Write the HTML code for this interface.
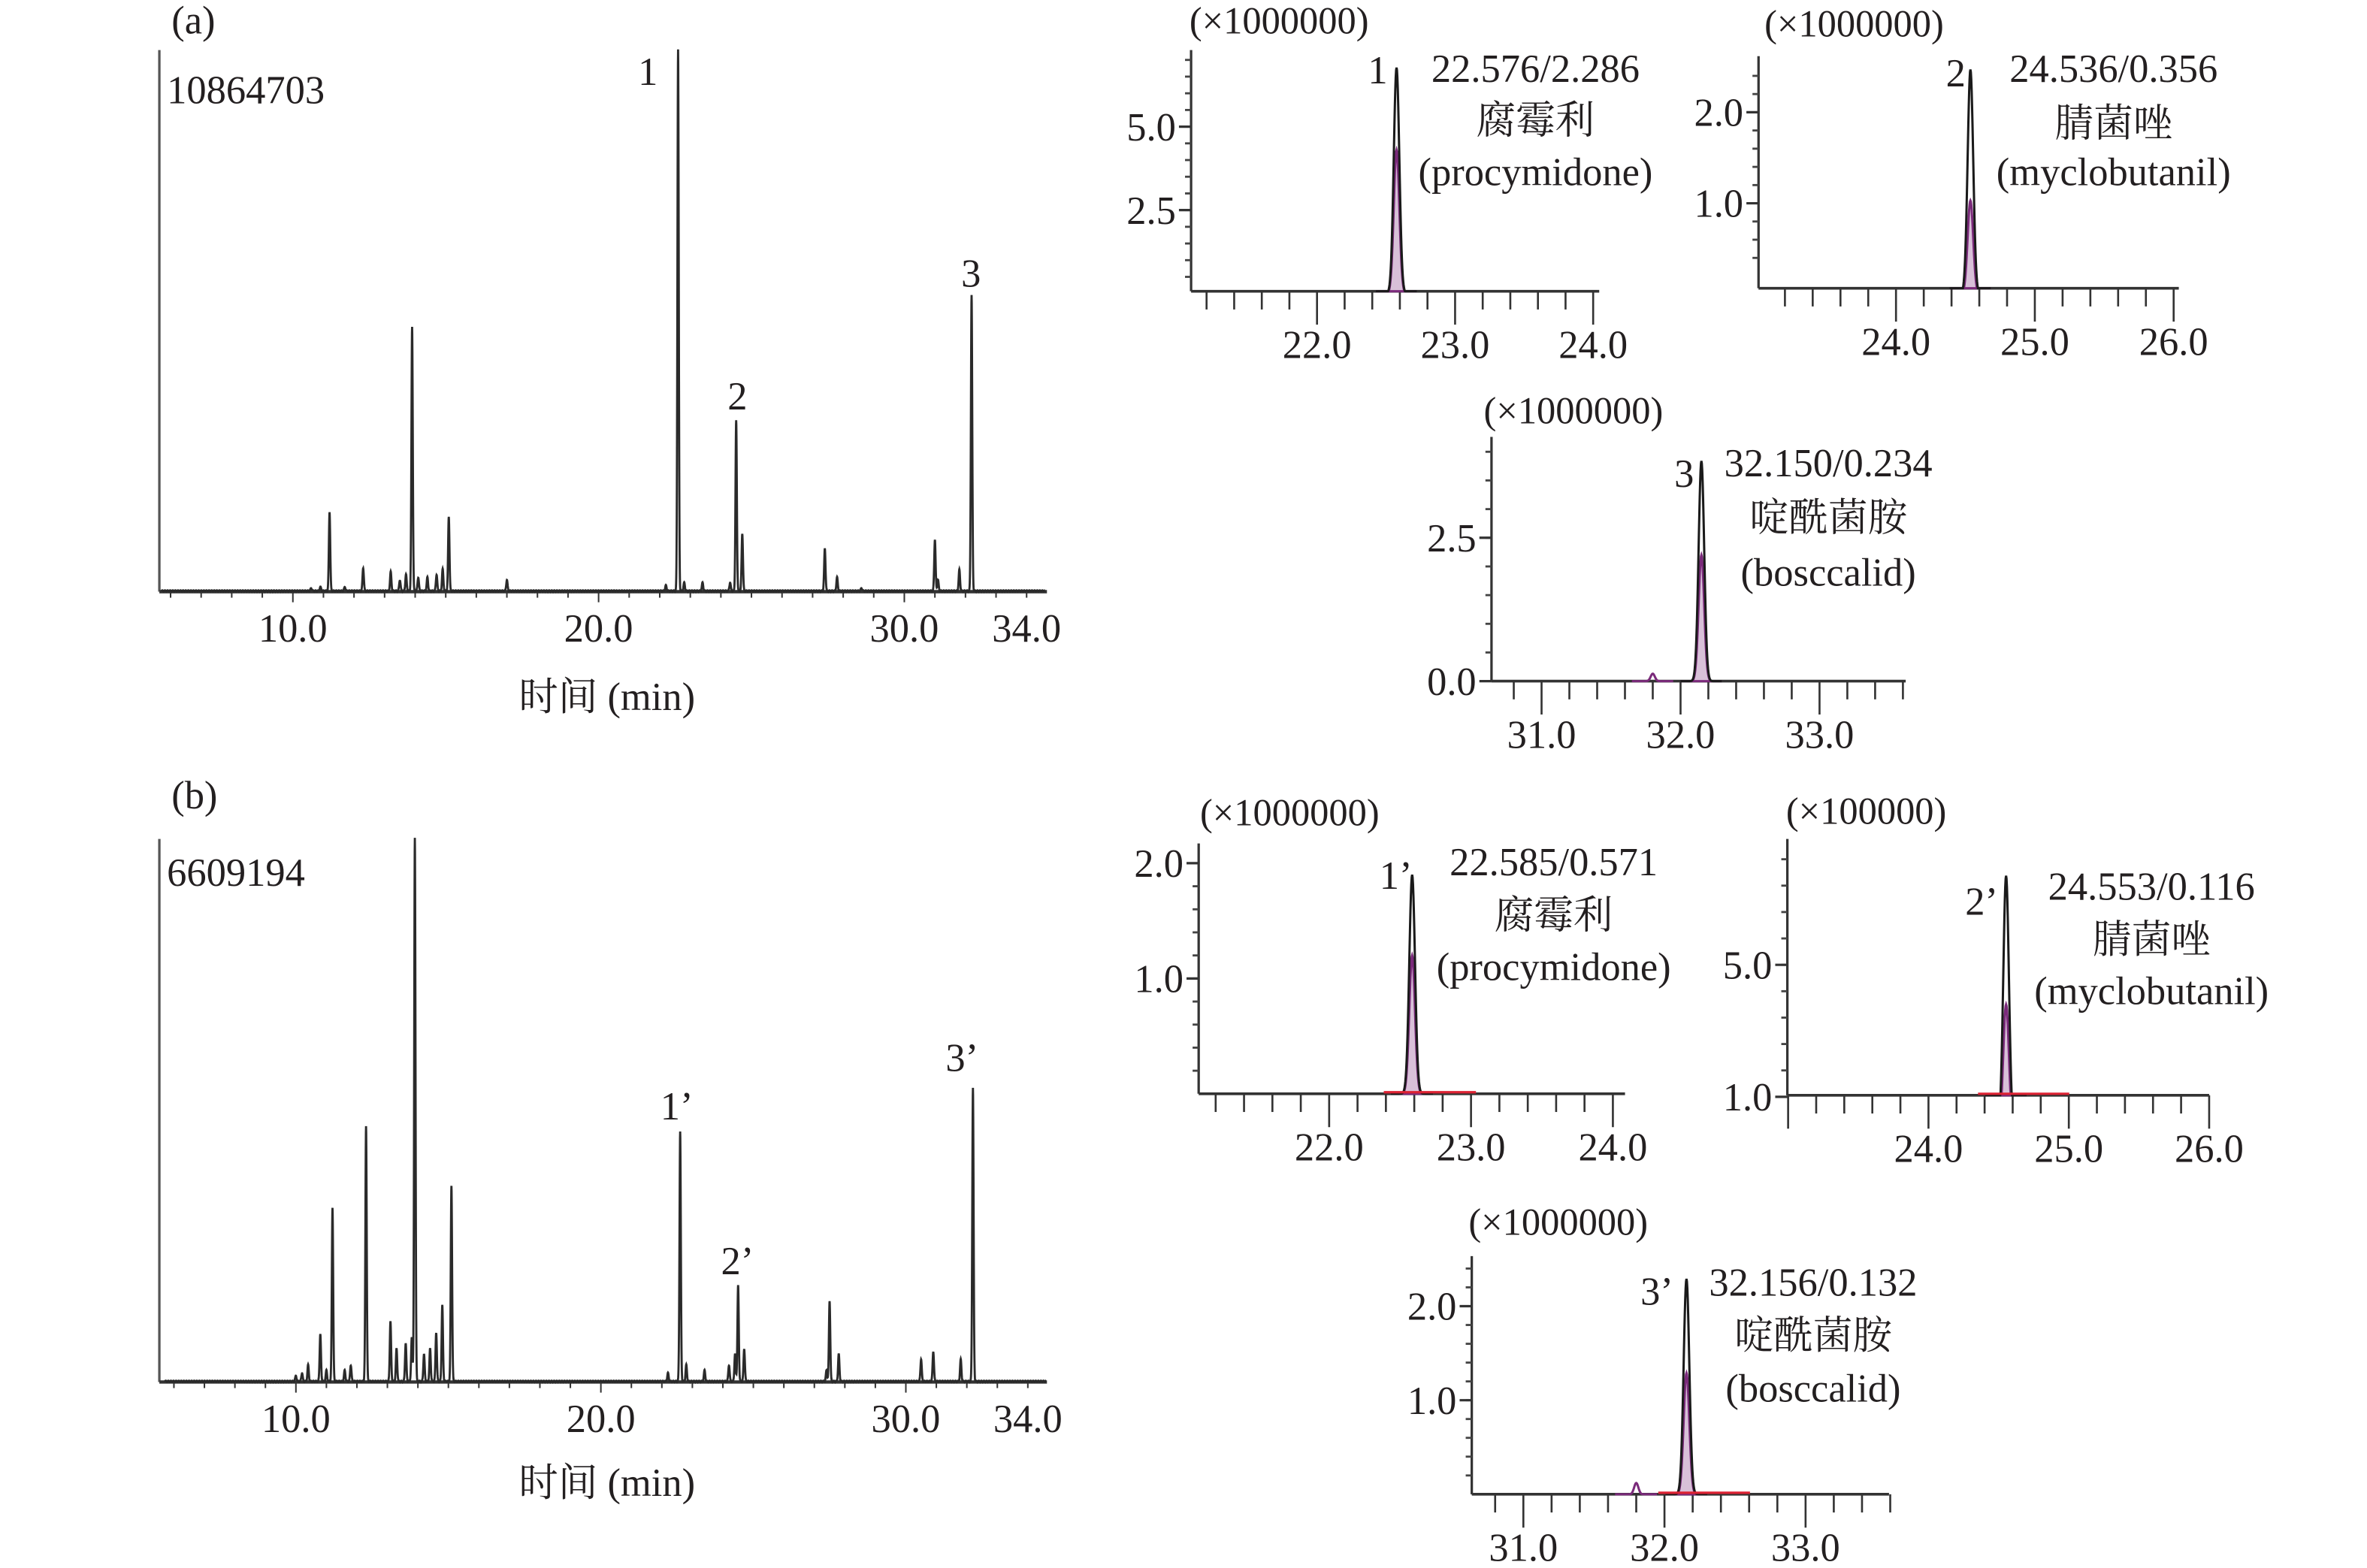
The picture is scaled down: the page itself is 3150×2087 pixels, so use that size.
<!DOCTYPE html>
<html><head><meta charset="utf-8">
<style>
html,body{margin:0;padding:0;background:#fff;}
svg{display:block;}
text{font-family:"Liberation Serif","Noto Serif CJK SC","Noto Sans CJK SC",serif;fill:#231f20;}
</style></head>
<body>
<svg id="fig" width="3150" height="2087" viewBox="0 0 1560 1033.6" xmlns="http://www.w3.org/2000/svg"></svg>
<script>
// ===== data: main chromatogram (a) =====
const aRt = [10.6,10.9,11.2,11.7,12.3,13.2,13.5,13.7,13.9,14.1,14.4,14.7,14.9,15.1,17.0,22.2,22.6,22.8,23.4,24.3,24.5,24.7,27.4,27.8,28.6,31.0,31.1,31.8,32.2];
const aH  = [0.5,0.7,14.6,0.7,4.2,3.5,2.0,3.0,48.7,2.5,2.5,3.0,4.0,13.7,2.0,1.0,100,1.5,1.5,1.5,31.4,10.6,7.8,2.5,0.5,9.5,2,3.9,54.6];
// ===== data: main chromatogram (b) =====
const bRt = [10.0,10.2,10.4,10.8,11.0,11.2,11.6,11.8,12.3,13.1,13.3,13.6,13.8,13.9,14.2,14.4,14.6,14.8,15.1,22.2,22.6,22.8,23.4,24.2,24.4,24.5,24.7,27.4,27.5,27.8,30.5,30.9,31.8,32.2];
const bH  = [1,1.5,3,8.7,2,32,2,3,47,11,6,7,8,100,5,6,9,14,36,1.5,46,3,2,3,5,17.6,6,2,14.8,5,4,5.5,4,54];
const mainTicks = [10.0,20.0,30.0,34.0];
// ===== data: extracted ion panels =====
const pRt     = [22.576,24.536,32.150,22.585,24.553,32.156];
const pTotal  = [6.77,2.47,3.84,1.90,7.70,2.29];
const pQual   = [4.30,1.03,2.20,1.20,3.80,1.29];
const pLabel  = ["1","2","3","1’","2’","3’"];
const pInfo   = ["22.576/2.286","24.536/0.356","32.150/0.234","22.585/0.571","24.553/0.116","32.156/0.132"];
const pCn     = ["腐霉利","腈菌唑","啶酰菌胺","腐霉利","腈菌唑","啶酰菌胺"];
const pEn     = ["(procymidone)","(myclobutanil)","(bosccalid)","(procymidone)","(myclobutanil)","(bosccalid)"];
const pMult   = ["(×1000000)","(×1000000)","(×1000000)","(×1000000)","(×100000)","(×1000000)"];
const pXTicks = [[22.0,23.0,24.0],[24.0,25.0,26.0],[31.0,32.0,33.0],[22.0,23.0,24.0],[24.0,25.0,26.0],[31.0,32.0,33.0]];
const pYTicks = [[2.5,5.0],[1.0,2.0],[0.0,2.5],[1.0,2.0],[1.0,5.0],[1.0,2.0]];
const pSmallRt = [null,null,31.8,null,null,31.8];
const pSmallH  = [0,0,0.13,0,0,0.12];

const NS="http://www.w3.org/2000/svg";
const svg=document.getElementById('fig');
function el(tag,attrs,parent){const e=document.createElementNS(NS,tag);for(const k in attrs)e.setAttribute(k,attrs[k]);(parent||svg).appendChild(e);return e;}
function txt(s,x,y,size,anchor,parent){const t=el('text',{x:x,y:y,'font-size':size,'text-anchor':anchor||'start'},parent);t.textContent=s;return t;}

function mainChrom(name,rts,hs,x0,xPerMin,base,full,top){
  const g=el('g',{});
  
  
  const X=t=>x0+(t-10)*xPerMin;
  const Y=v=>base-v/100*full;
  const ya=el('line',{x1:105,y1:top,x2:105,y2:base,stroke:'#555','stroke-width':1.6},g);
  
  
  const xa=el('line',{x1:105,y1:base,x2:690,y2:base,stroke:'#333','stroke-width':2.2},g);
  
  
  for(let t=6;t<=34;t++){const x=X(t);el('line',{x1:x,y1:base,x2:x,y2:base+(t%10===0?7:4),stroke:'#333','stroke-width':1},g);}
  mainTicks.forEach(t=>{const l=txt(t.toFixed(1),X(t),base+33,26,'middle',g);
    
    });
  let d='';
  for(let t=5.7;t<=34.6;t+=0.005){
    let v=0.25*Math.abs(Math.sin(t*37));
    for(let i=0;i<rts.length;i++){const s=0.022;v+=hs[i]*Math.exp(-((t-rts[i])**2)/(2*s*s));}
    v=Math.min(v,100.5);
    d+=(d?'L':'M')+X(t).toFixed(2)+' '+Y(v).toFixed(2);
  }
  const p=el('path',{d:d,fill:'none',stroke:'#2a2a2a','stroke-width':1.4},g);
  
  
  return {g,X,Y};
}
const A=mainChrom('chromatogram-a',aRt,aH,193,20.15,390,357,33);
const B=mainChrom('chromatogram-b',bRt,bH,195,20.1,911,358,553);
[['(a)',113,22],['(b)',113,533]].forEach(a=>{const t=txt(a[0],a[1],a[2],26);
  
  });
[['10864703',110,68],['6609194',110,584]].forEach(a=>{const t=txt(a[0],a[1],a[2],26);
  
  });
[['时间 (min)',400,468],['时间 (min)',400,986]].forEach(a=>{const t=txt(a[0],a[1],a[2],26,'middle');
  
  });
[['1',427,56],['2',486,270],['3',640,189]].forEach(a=>{const t=txt(a[0],a[1],a[2],26,'middle');
  
  });
[['1’',446,738],['2’',486,840],['3’',634,706]].forEach(a=>{const t=txt(a[0],a[1],a[2],26,'middle');
  
  });

const L=[
 {l:785,r:1054,b:192,top:33,xr:22,xp:868,ppm:91,y0:193.5,ppu:22,ys:0.5,ys0:0.5,mult:[843,22],lab:[908,55],info:[1012,54],cn:88,en:122},
 {l:1159,r:1436,b:190,top:37,xr:24,xp:1249.6,ppm:91.5,y0:194,ppu:60,ys:0.2,ys0:0.4,mult:[1222,24],lab:[1289,57],info:[1393,54],cn:90,en:122},
 {l:983,r:1256,b:449,top:288,xr:31,xp:1016,ppm:91.6,y0:449,ppu:37.8,ys:0.5,ys0:0.5,mult:[1037,279],lab:[1110,321],info:[1205,314],cn:350,en:386},
 {l:790,r:1071,b:721,top:556,xr:22,xp:876,ppm:93.5,y0:721,ppu:76,ys:0.2,ys0:0.2,mult:[850,544],lab:[920,586],info:[1024,577],cn:612,en:646},
 {l:1178,r:1456,b:722,top:553,xr:24,xp:1271,ppm:92.5,y0:744.75,ppu:21.75,ys:0.8,ys0:1.0,mult:[1230,543],lab:[1306,603],info:[1418,593],cn:628,en:662},
 {l:970,r:1245,b:985,top:828,xr:31,xp:1004,ppm:93,y0:985,ppu:62,ys:0.2,ys0:0.2,mult:[1027,814],lab:[1092,860],info:[1195,854],cn:889,en:924}
];
L.forEach((c,i)=>{
  const g=el('g',{});
  
  
  const X=t=>c.xp+(t-c.xr)*c.ppm;
  const Y=v=>c.y0-v*c.ppu;
  const ya=el('line',{x1:c.l,y1:c.top,x2:c.l,y2:c.b,stroke:'#333','stroke-width':1.6},g);
  
  
  const xa=el('line',{x1:c.l,y1:c.b,x2:c.r,y2:c.b,stroke:'#333','stroke-width':1.8},g);
  
  
  for(let v=c.ys0;Y(v)>c.top+2;v+=c.ys){const y=Y(v);if(y<c.b-3)el('line',{x1:c.l-4,y1:y,x2:c.l,y2:y,stroke:'#444','stroke-width':1.4},g);}
  pYTicks[i].forEach(v=>{const y=Y(v);el('line',{x1:c.l-8,y1:y,x2:c.l,y2:y,stroke:'#333','stroke-width':1.6},g);
    const t=txt(v.toFixed(1),c.l-10,y+9,26,'end',g);
    
    });
  const tStart=Math.ceil(((c.l-c.xp)/c.ppm+c.xr)*5)/5;
  for(let t=tStart;X(t)<=c.r+1;t+=0.2){const x=X(t);const major=Math.abs(t-Math.round(t))<0.01;
    el('line',{x1:x,y1:c.b,x2:x,y2:c.b+(major?22:12),stroke:'#333','stroke-width':1.3},g);}
  pXTicks[i].forEach(t=>{const l=txt(t.toFixed(1),X(t),c.b+44,26,'middle',g);
    
    });
  function peakPath(h,rt,s){let d='';
    for(let t=rt-0.15;t<=rt+0.15;t+=0.003){const v=h*Math.exp(-((t-rt)**2)/(2*s*s));const y=Math.min(c.b,Y(v));d+=(d?'L':'M')+X(t).toFixed(2)+' '+y.toFixed(2);}
    return d;}
  const q=el('path',{d:peakPath(pQual[i],pRt[i],0.02)+'Z',fill:'#d8c0d8',stroke:'#7a2a7a','stroke-width':1.5},g);
  
  
  const p=el('path',{d:peakPath(pTotal[i],pRt[i],0.02),fill:'none',stroke:'#1a1a1a','stroke-width':1.5},g);
  
  
  if(pSmallRt[i]!==null){const s=el('path',{d:peakPath(pSmallH[i],pSmallRt[i],0.015),fill:'none',stroke:'#7a2a7a','stroke-width':1.5},g);
    
    }
  if(i>=3){const r=el('line',{x1:X(pRt[i]-0.2),y1:c.b-1,x2:X(pRt[i]+0.45),y2:c.b-1,stroke:'#d23',"stroke-width":1.6},g);
    
    }
  const m=txt(pMult[i],c.mult[0],c.mult[1],25,'middle',g);
  
  
  const lb=txt(pLabel[i],c.lab[0],c.lab[1],26,'middle',g);
  
  
  const inf=txt(pInfo[i],c.info[0],c.info[1],26,'middle',g);
  
  
  const cn=txt(pCn[i],c.info[0],c.cn,26,'middle',g);
  
  
  const en=txt(pEn[i],c.info[0],c.en,26,'middle',g);
  
  
});
</script>
</body></html>
